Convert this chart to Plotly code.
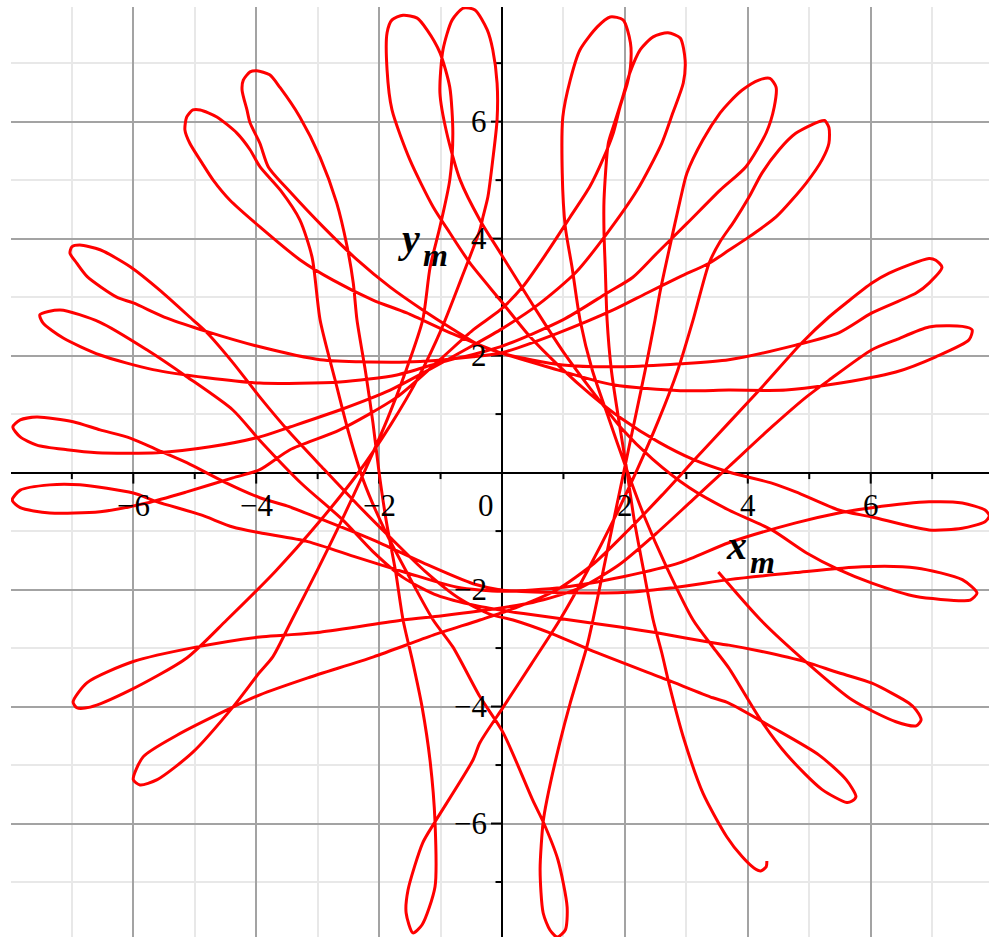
import plotly.graph_objects as go

# ---- trajectory, listed piece by piece in the order it is travelled ----
# outer lobes (named by where they sit) and the arcs that join them
lobe_r3 = [(3.52, -1.70), (4.21, -2.52), (4.95, -3.24), (5.70, -3.89), (6.41, -4.26), (6.74, -4.33),
           (6.82, -4.23), (6.74, -4.06), (6.62, -3.94), (6.02, -3.60), (5.44, -3.41), (4.95, -3.24),
           (4.23, -3.06), (3.69, -2.95), (3.43, -2.91), (2.52, -2.74), (1.92, -2.64), (1.11, -2.52)]
arc_r3_l2 = [(0.35, -2.41), (-0.40, -2.28), (-1.05, -2.10), (-1.60, -1.80), (-2.10, -1.35), (-2.60, -0.80),
             (-3.25, -0.20)]
lobe_l2 = [(-3.94, 0.55), (-4.38, 1.07), (-5.13, 1.64), (-5.78, 2.10), (-6.54, 2.57), (-7.19, 2.78),
           (-7.52, 2.70), (-7.47, 2.56), (-7.14, 2.30), (-6.54, 2.01), (-5.68, 1.76), (-4.80, 1.62), (-3.94, 1.53)]
arc_l2_tr1 = [(-2.64, 1.55), (-1.71, 1.67), (-1.01, 1.88), (-0.03, 2.15)]
lobe_tr1 = [(0.99, 2.61), (1.71, 3.07), (2.13, 3.34), (2.52, 3.75), (3.01, 4.26), (3.55, 4.83), (3.97, 5.23),
            (4.30, 5.81), (4.43, 6.25), (4.46, 6.59), (4.36, 6.74), (4.18, 6.71), (3.91, 6.54), (3.69, 6.32),
            (3.55, 6.15), (3.27, 5.69), (3.01, 5.12), (2.90, 4.66), (2.73, 3.86), (2.57, 3.08), (2.49, 2.61)]
arc_tr1_b1 = [(2.33, 1.75), (2.16, 0.90), (1.99, 0.05), (1.82, -0.80), (1.65, -1.66)]
lobe_b1 = [(1.48, -2.52), (1.38, -2.98), (1.11, -3.94), (0.94, -4.62), (0.73, -5.60), (0.67, -5.97),
           (0.62, -6.79), (0.67, -7.53), (0.78, -7.82), (0.90, -7.94), (1.03, -7.82), (1.06, -7.43),
           (0.91, -6.62), (0.67, -5.97), (0.50, -5.60), (0.02, -4.45), (-0.36, -3.83), (-0.80, -2.98),
           (-1.12, -2.52)]
arc_b1_tl1 = [(-1.50, -1.80), (-1.90, -1.00), (-2.25, -0.15), (-2.50, 0.70), (-2.72, 1.60), (-2.96, 2.61),
              (-3.09, 3.68), (-3.29, 4.32), (-3.60, 4.82)]
lobe_tl1 = [(-3.94, 5.23), (-4.10, 5.52), (-4.31, 5.80), (-4.64, 6.08), (-4.91, 6.20), (-5.03, 6.20),
            (-5.13, 6.08), (-5.16, 5.86), (-5.08, 5.63), (-4.88, 5.29), (-4.70, 5.00), (-4.43, 4.66),
            (-3.94, 4.20)]
arc_tl1_r0a = [(-3.29, 3.64), (-2.75, 3.29), (-2.10, 2.95), (-1.55, 2.73), (-0.80, 2.37), (0.00, 2.04),
               (0.99, 1.84), (1.97, 1.81), (2.90, 1.86)]
lobe_r0a = [(3.69, 1.93), (4.78, 2.18), (5.48, 2.39), (6.02, 2.73), (6.74, 3.07), (6.95, 3.24), (7.16, 3.51),
            (7.06, 3.63), (6.95, 3.66), (6.30, 3.41), (6.02, 3.24), (5.60, 2.90), (5.32, 2.66), (4.88, 2.22),
            (4.23, 1.46), (3.69, 0.85)]
arc_r0a_bl2 = [(3.15, 0.24), (2.60, -0.39), (2.05, -0.99), (1.50, -1.55), (0.90, -2.00), (0.25, -2.30)]
lobe_bl2 = [(-0.36, -2.52), (-1.12, -2.78), (-2.09, -3.15), (-3.16, -3.51), (-3.94, -3.80), (-4.38, -4.01),
            (-5.29, -4.49), (-5.84, -4.86), (-6.00, -5.25), (-5.89, -5.34), (-5.61, -5.25), (-5.03, -4.78),
            (-4.38, -4.01), (-3.94, -3.41), (-3.73, -3.15), (-3.42, -2.52)]
arc_bl2_t1 = [(-3.00, -1.66), (-2.60, -0.80), (-2.22, 0.06), (-1.87, 0.90), (-1.56, 1.75)]
lobe_t1 = [(-1.29, 2.61), (-1.17, 3.51), (-1.01, 4.20), (-0.85, 5.00), (-0.80, 5.80), (-0.85, 6.59),
           (-1.01, 7.18), (-1.22, 7.57), (-1.38, 7.77), (-1.61, 7.82), (-1.79, 7.74), (-1.87, 7.52),
           (-1.87, 6.88), (-1.79, 6.20), (-1.50, 5.35), (-1.12, 4.54), (-0.85, 4.10), (-0.52, 3.58), (-0.03, 2.95)]
arc_t1_r1 = [(0.45, 2.33), (0.95, 1.80), (1.45, 1.33), (1.95, 0.92), (2.55, 0.52), (3.10, 0.23)]
lobe_r1 = [(3.69, 0.01), (4.39, -0.18), (4.78, -0.33), (5.48, -0.64), (6.02, -0.76), (6.95, -0.98),
           (7.49, -0.95), (7.86, -0.84), (7.93, -0.74), (7.86, -0.64), (7.49, -0.52), (6.95, -0.50),
           (6.02, -0.60), (5.48, -0.69), (4.78, -0.86), (3.69, -1.20)]
arc_r1_l4 = [(2.90, -1.54), (1.97, -1.78), (1.00, -1.96), (0.00, -2.03), (-0.73, -1.96), (-1.53, -1.72),
             (-2.36, -1.45), (-3.16, -1.18)]
lobe_l4 = [(-3.94, -1.03), (-4.38, -0.93), (-4.91, -0.72), (-5.61, -0.50), (-6.00, -0.35), (-6.87, -0.21),
           (-7.36, -0.21), (-7.84, -0.30), (-7.97, -0.47), (-7.84, -0.60), (-7.36, -0.69), (-6.54, -0.67),
           (-5.78, -0.52), (-5.13, -0.33), (-4.38, -0.09), (-3.94, 0.05)]
arc_l4_t3 = [(-3.45, 0.39), (-2.64, 0.73), (-1.71, 1.29), (-1.01, 1.93), (-0.47, 2.44)]
lobe_t3 = [(-0.03, 2.78), (0.34, 3.18), (0.73, 3.76), (1.11, 4.37), (1.43, 4.89), (1.64, 5.35), (1.81, 5.80),
           (1.92, 6.25), (2.04, 6.66), (2.09, 6.93), (2.09, 7.35), (1.97, 7.74), (1.76, 7.79), (1.55, 7.62),
           (1.27, 7.23), (1.11, 6.71), (0.99, 6.08), (0.98, 5.12), (1.03, 4.20), (1.14, 3.51), (1.27, 2.61)]
arc_t3_r4 = [(1.47, 1.75), (1.74, 0.92), (2.02, 0.08), (2.32, -0.76), (2.68, -1.62)]
lobe_r4 = [(3.11, -2.52), (3.43, -2.98), (3.69, -3.34), (4.21, -4.23), (4.64, -4.83), (5.21, -5.42),
           (5.61, -5.64), (5.69, -5.62), (5.76, -5.54), (5.60, -5.25), (5.16, -4.83), (4.39, -4.35),
           (3.69, -3.94), (3.43, -3.85), (2.68, -3.54), (1.43, -3.03), (0.78, -2.74), (0.18, -2.52)]
arc_r4_l1 = [(-0.20, -2.42), (-0.70, -2.15), (-1.25, -1.69), (-1.80, -1.13), (-2.35, -0.55), (-2.90, 0.06),
             (-3.45, 0.68)]
lobe_l1 = [(-3.94, 1.29), (-4.38, 1.88), (-4.80, 2.39), (-5.03, 2.61), (-5.57, 3.12), (-6.05, 3.52),
           (-6.54, 3.81), (-6.87, 3.89), (-7.00, 3.86), (-7.03, 3.75), (-6.92, 3.58), (-6.75, 3.35),
           (-6.27, 3.00), (-6.00, 2.90), (-5.45, 2.64), (-4.80, 2.41), (-3.94, 2.15)]
arc_l1_tr2 = [(-2.96, 1.93), (-1.55, 1.89), (-0.47, 1.98), (0.00, 2.05), (0.90, 2.38)]
lobe_tr2 = [(1.81, 2.78), (2.36, 3.07), (2.90, 3.35), (3.37, 3.58), (3.69, 3.80), (4.02, 4.03), (4.46, 4.37),
            (4.95, 4.95), (5.21, 5.35), (5.32, 5.63), (5.32, 5.90), (5.25, 6.02), (5.16, 6.00), (4.78, 5.80),
            (4.51, 5.52), (4.23, 5.12), (4.02, 4.71), (3.78, 4.30), (3.55, 3.95), (3.37, 3.58), (3.11, 2.61)]
arc_tr2_b2 = [(2.86, 1.75), (2.55, 0.90), (2.20, 0.05), (1.82, -0.80), (1.40, -1.66)]
lobe_b2 = [(0.94, -2.52), (0.48, -3.27), (0.02, -4.01), (-0.36, -4.62), (-0.47, -4.91), (-1.09, -5.97),
           (-1.29, -6.33), (-1.53, -7.14), (-1.56, -7.53), (-1.45, -7.87), (-1.30, -7.73), (-1.09, -7.08),
           (-1.09, -5.97), (-1.17, -4.93), (-1.30, -4.01), (-1.45, -3.25), (-1.61, -2.52)]
arc_b2_tl2 = [(-1.73, -1.70), (-1.88, -0.85), (-2.00, 0.00), (-2.10, 0.85), (-2.22, 1.72)]
lobe_tl2 = [(-2.36, 2.61), (-2.42, 3.24), (-2.52, 3.86), (-2.69, 4.61), (-2.96, 5.39), (-3.29, 6.08),
            (-3.61, 6.58), (-3.78, 6.80), (-3.99, 6.87), (-4.10, 6.85), (-4.21, 6.71), (-4.23, 6.54),
            (-4.15, 6.20), (-4.10, 5.98), (-3.94, 5.63)]
arc_tl2_r0b = [(-3.80, 5.22), (-3.45, 4.80), (-2.91, 4.20), (-2.36, 3.64), (-1.82, 3.17), (-1.29, 2.78),
               (-0.80, 2.45), (-0.35, 2.17), (0.15, 1.99), (0.73, 1.81), (1.81, 1.50), (2.90, 1.40)]
lobe_r0b = [(3.69, 1.41), (4.62, 1.41), (5.32, 1.50), (6.41, 1.72), (7.06, 1.98), (7.60, 2.27), (7.65, 2.44),
            (7.49, 2.50), (6.95, 2.49), (6.41, 2.27), (6.02, 2.10), (5.32, 1.58), (4.95, 1.29), (4.39, 0.78),
            (3.69, 0.10)]
arc_r0b_bl1 = [(3.10, -0.47), (2.50, -1.05), (1.90, -1.58), (1.25, -1.98), (0.50, -2.22), (-0.40, -2.37),
               (-1.00, -2.45)]
lobe_bl1 = [(-1.61, -2.52), (-2.96, -2.73), (-3.56, -2.78), (-3.94, -2.81), (-4.96, -2.98), (-6.00, -3.23),
            (-6.75, -3.59), (-6.98, -3.92), (-6.92, -4.02), (-6.70, -4.01), (-6.05, -3.72), (-5.13, -3.17),
            (-4.48, -2.52)]
arc_bl1_t2 = [(-3.69, -1.69), (-2.98, -0.85), (-2.35, -0.02), (-1.81, 0.82), (-1.35, 1.65), (-0.975, 2.48),
              (-0.66, 3.32)]
lobe_t2 = [(-0.36, 4.15), (-0.31, 4.37), (-0.23, 4.71), (-0.15, 5.35), (-0.08, 6.03), (-0.08, 6.66),
           (-0.15, 7.23), (-0.24, 7.57), (-0.44, 7.91), (-0.63, 7.94), (-0.81, 7.74), (-0.96, 7.23),
           (-1.01, 6.49), (-0.90, 5.81), (-0.68, 5.00), (-0.36, 4.32), (-0.03, 3.76)]
arc_t2_r2 = [(0.50, 2.87), (1.00, 2.06), (1.50, 1.35), (1.95, 0.75), (2.45, 0.23), (3.05, -0.26)]
lobe_r2 = [(3.69, -0.64), (4.39, -0.98), (4.95, -1.37), (5.48, -1.66), (6.02, -1.89), (6.74, -2.12),
           (7.49, -2.19), (7.62, -2.18), (7.73, -2.06), (7.49, -1.83), (6.74, -1.63), (5.86, -1.61),
           (4.78, -1.71), (3.69, -1.83)]
arc_r2_l3 = [(2.90, -1.95), (1.97, -2.05), (0.90, -2.05), (0.00, -2.01), (-0.47, -1.90), (-1.29, -1.54),
             (-2.10, -1.15), (-2.91, -0.81), (-3.50, -0.57)]
lobe_l3 = [(-3.94, -0.43), (-4.48, -0.18), (-5.13, 0.17), (-5.61, 0.39), (-6.05, 0.59), (-6.54, 0.73),
           (-6.98, 0.87), (-7.57, 0.95), (-7.84, 0.90), (-7.96, 0.78), (-7.84, 0.61), (-7.57, 0.47),
           (-7.08, 0.39), (-6.59, 0.34), (-5.61, 0.34), (-4.75, 0.44), (-3.94, 0.61)]
arc_l3_t4 = [(-3.45, 0.78), (-2.64, 1.07), (-1.82, 1.41), (-1.29, 1.70), (-0.60, 2.10), (-0.03, 2.44),
             (0.60, 2.88), (1.20, 3.42)]
lobe_t4 = [(1.71, 4.09), (2.20, 4.83), (2.60, 5.63), (2.78, 6.15), (2.95, 6.66), (2.98, 7.05), (2.90, 7.43),
           (2.70, 7.52), (2.46, 7.45), (2.25, 7.23), (2.08, 6.83), (1.95, 6.37), (1.81, 5.91), (1.73, 5.63),
           (1.66, 4.66), (1.66, 4.10), (1.68, 3.51), (1.71, 2.61)]
arc_t4_end = [(1.78, 1.75), (1.90, 0.90), (2.03, 0.05), (2.15, -0.80), (2.30, -1.65)]
tail_end = [(2.46, -2.52), (2.60, -3.08), (2.73, -3.66), (2.95, -4.52), (3.27, -5.48), (3.66, -6.23),
            (3.91, -6.57), (4.10, -6.76), (4.21, -6.81), (4.30, -6.74), (4.31, -6.64)]

route = [lobe_r3, arc_r3_l2, lobe_l2, arc_l2_tr1, lobe_tr1, arc_tr1_b1, lobe_b1, arc_b1_tl1, lobe_tl1,
         arc_tl1_r0a, lobe_r0a, arc_r0a_bl2, lobe_bl2, arc_bl2_t1, lobe_t1, arc_t1_r1, lobe_r1, arc_r1_l4,
         lobe_l4, arc_l4_t3, lobe_t3, arc_t3_r4, lobe_r4, arc_r4_l1, lobe_l1, arc_l1_tr2, lobe_tr2,
         arc_tr2_b2, lobe_b2, arc_b2_tl2, lobe_tl2, arc_tl2_r0b, lobe_r0b, arc_r0b_bl1, lobe_bl1,
         arc_bl1_t2, lobe_t2, arc_t2_r2, lobe_r2, arc_r2_l3, lobe_l3, arc_l3_t4, lobe_t4, arc_t4_end, tail_end]

# axis ticks and labels
major_ticks = [-6, -4, -2, 2, 4, 6]
minor_ticks = [-7, -5, -3, -1, 1, 3, 5, 7]
x_tick_labels = ["\u22126", "\u22124", "\u22122", "2", "4", "6"]
y_tick_labels = ["\u22126", "\u22124", "\u22122", "2", "4", "6"]

X_RANGE = [-7.99, 7.925]
Y_RANGE = [-7.94, 7.96]
W, H = 989, 940
M = dict(l=11, r=0, t=7, b=3)
px_x = (W - M["l"] - M["r"]) / (X_RANGE[1] - X_RANGE[0])
px_y = (H - M["t"] - M["b"]) / (Y_RANGE[1] - Y_RANGE[0])

xs = [p[0] for piece in route for p in piece]
ys = [p[1] for piece in route for p in piece]

fig = go.Figure()

# tick marks on the axes through the origin
tx, ty = [], []
for v in major_ticks + minor_ticks:
    L = 11 if v in major_ticks else 6.5
    tx += [v, v, None]
    ty += [0, -L / px_y, None]
    tx += [0, -L / px_x, None]
    ty += [v, v, None]
fig.add_trace(go.Scatter(x=tx, y=ty, mode="lines", line=dict(color="black", width=2),
                         hoverinfo="skip", showlegend=False))

fig.add_trace(go.Scatter(x=xs, y=ys, mode="lines",
                         line=dict(color="#ff0000", width=3, shape="spline", smoothing=0.7),
                         showlegend=False))

tick_font = dict(family="Liberation Serif", size=31, color="black")
ann = []
for v, t in zip(major_ticks, x_tick_labels):
    ann.append(dict(x=v, y=0, text=t, showarrow=False, xanchor="center", yanchor="middle",
                    yshift=-33, font=tick_font))
for v, t in zip(major_ticks, y_tick_labels):
    ann.append(dict(x=0, y=v, text=t, showarrow=False, xanchor="right", yanchor="middle",
                    xshift=-13, font=tick_font))
ann.append(dict(x=0, y=0, text="0", showarrow=False, xanchor="right", yanchor="middle",
                xshift=-6, yshift=-33, font=tick_font))

# axis names: letter plus lowered index, set side by side
lab_font = dict(family="Liberation Serif", size=40, color="black")
sub_font = dict(family="Liberation Serif", size=32, color="black")
ann.append(dict(x=3.995, y=-1.24, text="<b><i>x</i></b>", showarrow=False, font=lab_font,
                xanchor="right", yanchor="middle", borderpad=0))
ann.append(dict(x=3.995, y=-1.53, text="<b><i>m</i></b>", showarrow=False, font=sub_font,
                xanchor="left", yanchor="middle", xshift=1, borderpad=0))
ann.append(dict(x=-1.318, y=4.00, text="<b><i>y</i></b>", showarrow=False, font=lab_font,
                xanchor="right", yanchor="middle", borderpad=0))
ann.append(dict(x=-1.318, y=3.72, text="<b><i>m</i></b>", showarrow=False, font=sub_font,
                xanchor="left", yanchor="middle", xshift=1, borderpad=0))

axis_common = dict(tick0=0, dtick=2, showgrid=True, gridcolor="#a3a3a3", gridwidth=2,
                   minor=dict(tick0=0, dtick=1, showgrid=True, gridcolor="#e8e8e8", gridwidth=2),
                   zeroline=True, zerolinecolor="black", zerolinewidth=2,
                   showticklabels=False, ticks="", showline=False, fixedrange=True)
fig.update_xaxes(range=X_RANGE, **axis_common)
fig.update_yaxes(range=Y_RANGE, **axis_common)
fig.update_layout(width=W, height=H, margin=dict(**M, autoexpand=False),
                  plot_bgcolor="white", paper_bgcolor="white", annotations=ann)
fig.write_html("out.html")
